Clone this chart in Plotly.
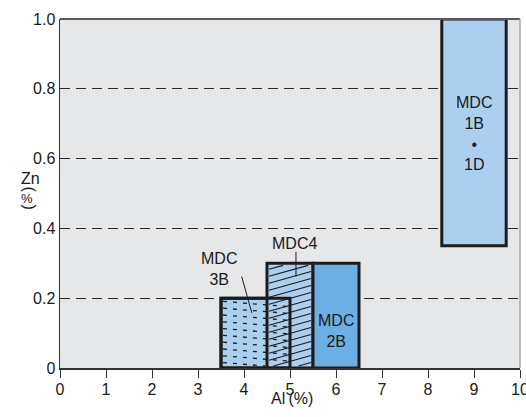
import plotly.graph_objects as go

# ---- data ----
alloys   = ["MDC 3B", "MDC4", "MDC 2B", "MDC 1B·1D"]
al_min   = [3.5, 4.5, 5.5, 8.3]
al_max   = [5.0, 5.5, 6.5, 9.7]
zn_min   = [0.0, 0.0, 0.0, 0.35]
zn_max   = [0.2, 0.3, 0.3, 1.0]
x_ticks  = [0, 1, 2, 3, 4, 5, 6, 7, 8, 9, 10]
y_ticks  = [0, 0.2, 0.4, 0.6, 0.8, 1.0]
y_labels = ["0", "0.2", "0.4", "0.6", "0.8", "1.0"]

# ---- styling ----
W, H = 526, 417
PL, PR, PT, PB = 60, 520, 19, 368   # plot area in page pixels
ML, MR, MT, MB = PL, W - PR, PT, H - PB
PW, PH = PR - PL, PB - PT
PX_X = PW / 10.0
PX_Y = PH / 1.0
LIGHT = "#abcfef"
DARK = "#6cafe4"
EDGE = "#1c1c1c"
FONT = "Liberation Sans, Arial, sans-serif"

fills = [LIGHT, LIGHT, DARK, LIGHT]

fig = go.Figure()


def add_box(i, fill, line_w=3):
    fig.add_trace(go.Bar(
        x=[(al_min[i] + al_max[i]) / 2], width=[al_max[i] - al_min[i]],
        base=[zn_min[i]], y=[zn_max[i] - zn_min[i]],
        marker=dict(color=fill, line=dict(color=EDGE, width=line_w)),
        cliponaxis=False, showlegend=False, hoverinfo="skip"))


# 3B filled, MDC4 filled, then 3B outline on top
add_box(0, fills[0])
add_box(1, fills[1])
add_box(0, "rgba(0,0,0,0)")
add_box(2, fills[2])
add_box(3, fills[3])


def hatch(i, slope_px, spacing_px, inset_px=2.0):
    x0 = al_min[i] + inset_px / PX_X
    x1 = al_max[i] - inset_px / PX_X
    y0 = zn_min[i] + inset_px / PX_Y
    y1 = zn_max[i] - inset_px / PX_Y
    k = slope_px * PX_X / PX_Y
    sp = spacing_px / PX_Y
    span = k * (x1 - x0)
    c = y0 - max(span, 0) + sp / 2
    xs, ys = [], []
    while c < y1 - min(span, 0):
        if k == 0:
            lo, hi = x0, x1
        else:
            xa = x0 + (y0 - c) / k
            xb = x0 + (y1 - c) / k
            lo = max(x0, min(xa, xb))
            hi = min(x1, max(xa, xb))
        if lo < hi:
            xs += [lo, hi, None]
            ys += [c + k * (lo - x0), c + k * (hi - x0), None]
        c += sp
    return xs, ys


hx, hy = hatch(1, 0.28, 7.0)
fig.add_trace(go.Scatter(x=hx, y=hy, mode="lines",
                         line=dict(color=EDGE, width=1.2),
                         showlegend=False, hoverinfo="skip", cliponaxis=False))
dx, dy = hatch(0, -0.08, 6.8)
fig.add_trace(go.Scatter(x=dx, y=dy, mode="lines",
                         line=dict(color=EDGE, width=1.3, dash="4px,6px"),
                         showlegend=False, hoverinfo="skip", cliponaxis=False))

# ---- labels ----
ann_font = dict(family=FONT, size=16, color="#1a1a1a")
fig.add_annotation(x=(al_min[3] + al_max[3]) / 2, y=0.672, text="MDC<br>1B<br>•<br>1D",
                   showarrow=False, font=ann_font)
fig.add_annotation(x=(al_min[2] + al_max[2]) / 2, y=0.106, text="MDC<br>2B",
                   showarrow=False, font=ann_font)
fig.add_annotation(x=3.45, y=0.283, text="MDC<br>3B", showarrow=False, font=ann_font)
fig.add_annotation(x=5.1, y=0.357, text="MDC4", showarrow=False, font=ann_font)
fig.add_shape(type="line", x0=3.95, y0=0.262, x1=4.17, y1=0.158,
              line=dict(color=EDGE, width=1))
fig.add_shape(type="line", x0=5.13, y0=0.333, x1=5.13, y1=0.262,
              line=dict(color=EDGE, width=1))


def px_to_paper(px, py):
    return (px - PL) / PW, (PB - py) / PH


def paper_text(px, py, text, size, angle=0):
    x, y = px_to_paper(px, py)
    fig.add_annotation(x=x, y=y, xref="paper", yref="paper", text=text,
                       textangle=angle, showarrow=False,
                       font=dict(family=FONT, size=size, color="#1a1a1a"))


# axis titles
paper_text(292, 409, "Al\u2009(%)", 16)
paper_text(19, 178, "Zn", 16)
paper_text(19, 189, "(", 16, 90)
paper_text(19, 198, "%", 13)
paper_text(19, 207, ")", 16, 90)

# frame top/right
fig.add_shape(type="line", xref="paper", yref="paper", x0=0, y0=1, x1=1, y1=1,
              line=dict(color="#5a5a5a", width=1.8))
fig.add_shape(type="line", xref="paper", yref="paper", x0=1, y0=0, x1=1, y1=1,
              line=dict(color="#a8a8a8", width=1.5))

fig.update_layout(
    width=W, height=H,
    margin=dict(l=ML, r=MR, t=MT, b=MB, autoexpand=False),
    paper_bgcolor="white", plot_bgcolor="#e6e7e8",
    barmode="overlay", bargap=0,
    font=dict(family=FONT, size=16, color="#1a1a1a"),
    xaxis=dict(range=[0, 10], tickvals=x_ticks, ticks="outside", ticklen=8,
               tickwidth=1, tickcolor="#333", showgrid=False, zeroline=False,
               showline=True, linecolor="#333", linewidth=1.5,
               tickfont=dict(size=16), automargin=False,
               ticklabeloverflow="allow", ticklabelstandoff=-2),
    yaxis=dict(range=[0, 1.0], tickvals=y_ticks, ticktext=y_labels, ticks="",
               showgrid=True, gridcolor="#2a2a2a", gridwidth=1.3,
               griddash="10px,6px", zeroline=False,
               showline=True, linecolor="#333", linewidth=1.5,
               tickfont=dict(size=16), automargin=False,
               ticklabeloverflow="allow"),
)

fig.write_html("out.html",
               config={"displayModeBar": False, "staticPlot": True},
               post_script="document.body.style.margin='0';"
                           "document.body.style.overflow='hidden';")
